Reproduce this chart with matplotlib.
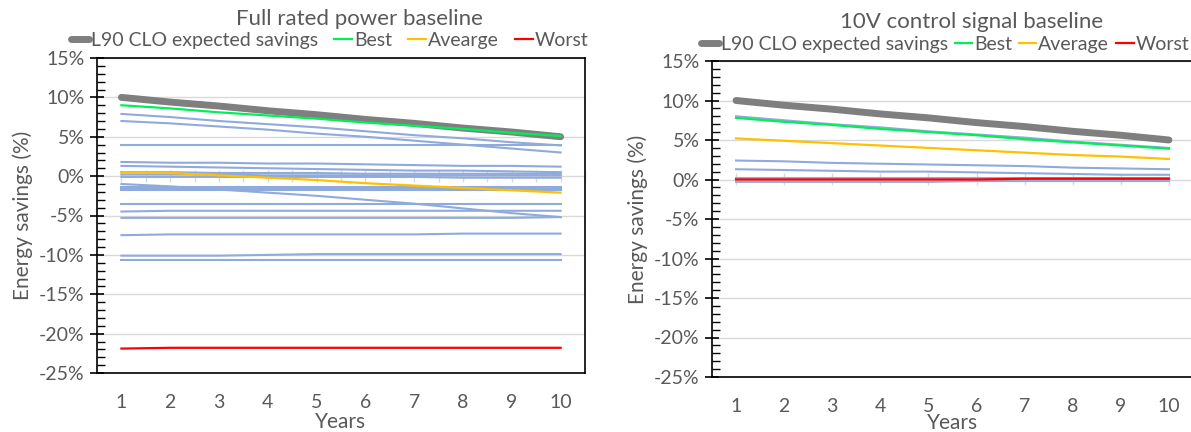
import matplotlib
matplotlib.use("Agg")
import matplotlib.pyplot as plt
import numpy as np
from matplotlib.ticker import FuncFormatter, MultipleLocator

plt.rcParams['font.family'] = ['Lato', 'DejaVu Sans']

years = [1, 2, 3, 4, 5, 6, 7, 8, 9, 10]

# ---- Left chart: Full rated power baseline ----
left_title = "Full rated power baseline"
left_expected = [10.0, 9.4, 8.9, 8.3, 7.8, 7.2, 6.7, 6.1, 5.6, 5.0]
left_best = [9.0, 8.6, 8.1, 7.7, 7.3, 6.8, 6.4, 6.0, 5.5, 5.1]
left_average = [0.5, 0.4, 0.1, -0.2, -0.5, -0.9, -1.2, -1.5, -1.8, -2.1]
left_worst = [-21.9, -21.8, -21.8, -21.8, -21.8, -21.8, -21.8, -21.8, -21.8, -21.8]
left_others = [
    [7.9, 7.5, 7.0, 6.6, 6.2, 5.7, 5.2, 4.8, 4.3, 3.9],
    [7.0, 6.7, 6.3, 5.9, 5.4, 5.0, 4.5, 4.0, 3.5, 3.0],
    [3.9, 3.9, 3.9, 3.9, 3.9, 3.9, 3.9, 3.9, 3.9, 3.9],
    [1.8, 1.7, 1.7, 1.6, 1.6, 1.5, 1.4, 1.3, 1.3, 1.2],
    [1.3, 1.2, 1.1, 1.0, 0.9, 0.8, 0.7, 0.7, 0.6, 0.5],
    [0.5, 0.5, 0.4, 0.4, 0.4, 0.3, 0.3, 0.3, 0.3, 0.3],
    [0.2, 0.2, 0.2, 0.1, 0.1, 0.1, 0.1, 0.1, 0.1, 0.1],
    [-0.1, -0.1, -0.1, -0.1, -0.1, -0.1, -0.1, -0.2, -0.2, -0.2],
    [-1.0, -1.3, -1.7, -2.1, -2.5, -3.0, -3.5, -4.1, -4.7, -5.2],
    [-1.4, -1.4, -1.4, -1.4, -1.4, -1.4, -1.4, -1.4, -1.4, -1.4],
    [-1.6, -1.6, -1.6, -1.6, -1.6, -1.6, -1.6, -1.6, -1.6, -1.6],
    [-1.8, -1.8, -1.8, -1.8, -1.8, -1.8, -1.8, -1.8, -1.8, -1.8],
    [-3.6, -3.6, -3.6, -3.6, -3.6, -3.6, -3.6, -3.6, -3.6, -3.6],
    [-4.5, -4.4, -4.4, -4.4, -4.4, -4.4, -4.4, -4.4, -4.4, -4.4],
    [-5.3, -5.3, -5.3, -5.3, -5.3, -5.3, -5.3, -5.3, -5.3, -5.2],
    [-7.5, -7.4, -7.4, -7.4, -7.4, -7.4, -7.4, -7.3, -7.3, -7.3],
    [-10.1, -10.1, -10.1, -10.0, -9.9, -9.9, -9.9, -9.9, -9.9, -9.9],
    [-10.7, -10.7, -10.7, -10.7, -10.7, -10.7, -10.7, -10.7, -10.7, -10.7],
]
left_labels = ["L90 CLO expected savings", "Best", "Avearge", "Worst"]

# ---- Right chart: 10V control signal baseline ----
right_title = "10V control signal baseline"
right_expected = [10.0, 9.4, 8.9, 8.3, 7.8, 7.2, 6.7, 6.1, 5.6, 5.0]
right_best = [7.8, 7.3, 6.9, 6.4, 6.0, 5.6, 5.1, 4.7, 4.3, 3.9]
right_average = [5.2, 4.9, 4.6, 4.3, 4.0, 3.7, 3.4, 3.1, 2.9, 2.6]
right_worst = [0.0, 0.0, 0.0, 0.0, 0.0, 0.0, 0.1, 0.1, 0.1, 0.1]
right_others = [
    [8.0, 7.5, 7.0, 6.6, 6.1, 5.7, 5.3, 4.8, 4.4, 4.0],
    [2.4, 2.3, 2.1, 2.0, 1.9, 1.8, 1.7, 1.5, 1.4, 1.3],
    [1.3, 1.2, 1.1, 1.0, 1.0, 0.9, 0.8, 0.7, 0.6, 0.6],
    [0.2, 0.2, 0.2, 0.2, 0.2, 0.2, 0.2, 0.2, 0.2, 0.2],
    [0.1, 0.1, 0.1, 0.1, 0.1, 0.1, 0.1, 0.1, 0.1, 0.1],
    [-0.3, -0.3, -0.3, -0.3, -0.3, -0.2, -0.2, -0.2, -0.2, -0.2],
]
right_labels = ["L90 CLO expected savings", "Best", "Average", "Worst"]

TXT = "#595959"
GRAY = "#7f7f7f"
BLUE = "#8faadc"
GREEN = "#00ee5a"
ORANGE = "#ffc000"
RED = "#ff0000"
GRID = "#d9d9d9"
FS = 14

fig = plt.figure(figsize=(11.91, 4.32), dpi=100)
axL = fig.add_axes([97/1191, 1-373/432, 488/1191, 315/432])
axR = fig.add_axes([712/1191, 1-377/432, 481/1191, 316/432])


def draw(ax, expected, best, average, worst, others):
    h = []
    h += ax.plot(years, expected, color=GRAY, linewidth=5, solid_capstyle='round', zorder=3)
    h += ax.plot(years, best, color=GREEN, linewidth=1.6, zorder=4)
    h += ax.plot(years, average, color=ORANGE, linewidth=1.6, zorder=4)
    h += ax.plot(years, worst, color=RED, linewidth=1.6, zorder=4)
    for o in others:
        ax.plot(years, o, color=BLUE, linewidth=1.5, zorder=2)
    return h


def style(ax, handles, title, labels, colspace, half_ticks, legend_anchor,
          xlabelpad, title_x):
    ax.set_xlim(0.5, 10.5)
    ax.set_ylim(-25, 15)
    ax.yaxis.set_major_locator(MultipleLocator(5))
    ax.yaxis.set_minor_locator(MultipleLocator(1))
    ax.yaxis.set_major_formatter(FuncFormatter(lambda v, p: f"{int(round(v))}%"))
    ax.set_xticks(years)
    ax.set_xticklabels([str(y) for y in years])
    ax.tick_params(axis='x', length=0, pad=15, labelsize=FS, labelcolor=TXT)
    ax.tick_params(axis='y', which='major', direction='inout', length=10, width=1.2,
                   labelsize=FS, labelcolor=TXT, pad=4)
    ax.tick_params(axis='y', which='minor', direction='in', length=6, width=1.0)
    ax.grid(axis='y', color=GRID, linewidth=1.0)
    ax.set_axisbelow(True)
    for s in ax.spines.values():
        s.set_color('black')
        s.set_linewidth(1.2)
    ax.set_xlabel("Years", fontsize=FS + 1, color=TXT, labelpad=xlabelpad)
    ax.set_ylabel("Energy savings (%)", fontsize=FS + 1, color=TXT, labelpad=4)
    ax.set_title(title, fontsize=FS + 2, color=TXT, pad=24, x=title_x)
    # zero-line category ticks
    sec = ax.secondary_xaxis(0.625)
    for s in sec.spines.values():
        s.set_visible(False)
    if half_ticks:
        sec.set_xticks(np.arange(1, 10.6, 0.5))
    else:
        sec.set_xticks(years)
    sec.tick_params(direction='inout', length=8, color=GRID, width=1.0,
                    labelbottom=False, labeltop=False)
    leg = ax.legend(handles, labels, loc='lower center', bbox_to_anchor=legend_anchor,
                    ncol=4, frameon=False, fontsize=FS, handlelength=0.9,
                    handletextpad=0.1, columnspacing=colspace, borderaxespad=0,
                    labelcolor=TXT)
    for line in leg.get_lines():
        if line.get_linewidth() > 3:
            line.set_solid_capstyle('round')


hL = draw(axL, left_expected, left_best, left_average, left_worst, left_others)
hR = draw(axR, right_expected, right_best, right_average, right_worst, right_others)
style(axL, hL, left_title, left_labels, 0.85, True, (0.477, 1.005), 1, 0.537)
style(axR, hR, right_title, right_labels, 0.35, False, (0.485, 1.0), -1, 0.54)

fig.savefig("out.png", dpi=100)
